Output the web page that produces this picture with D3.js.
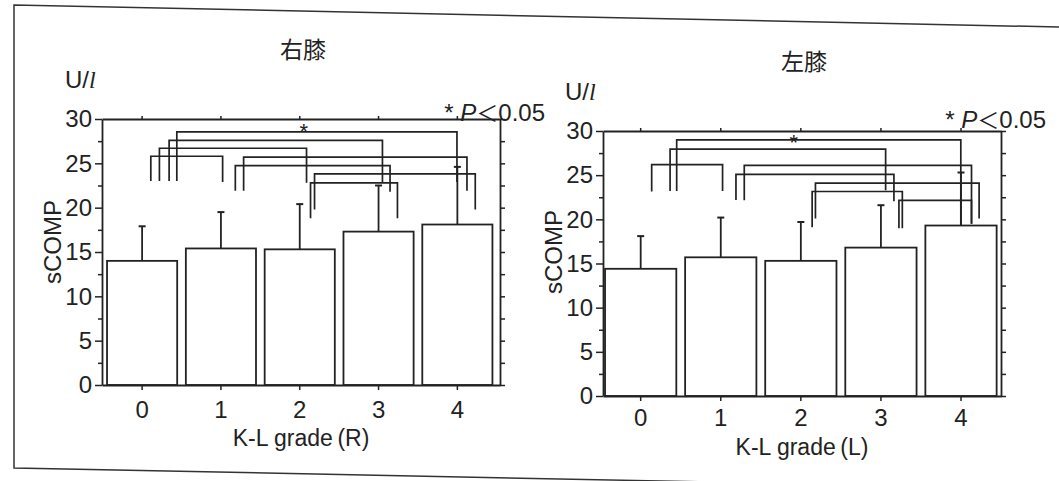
<!DOCTYPE html>
<html><head><meta charset="utf-8">
<script src="https://cdn.jsdelivr.net/npm/d3@7"></script>
<style>
body{margin:0;background:#fff;}
text{font-family:"Liberation Sans",Arial,sans-serif;fill:#222;}
.cjk{font-family:"Noto Sans CJK JP","Noto Sans CJK SC",sans-serif;}
</style></head><body>
<svg id="c" width="1059" height="481"></svg>
<script>
// ---------- data ----------
const categories = ["0", "1", "2", "3", "4"];
const yTickValues = [0, 5, 10, 15, 20, 25, 30];
const yMinorTicks = [2.5, 7.5, 12.5, 17.5, 22.5, 27.5];

// 右膝 (right knee)
const meanRight = [14.0, 15.4, 15.3, 17.3, 18.1];
const sdRight   = [3.9, 4.1, 5.1, 5.2, 6.5];
const pairsRight     = [[0,1],[0,2],[0,3],[0,4],[1,3],[1,4],[2,3],[2,4]];
const bracketTopRight = [25.8, 26.7, 27.6, 28.55, 24.75, 25.7, 22.8, 23.8];
const footFromRight   = [23.0, 23.0, 23.0, 23.0, 21.9, 21.9, 18.8, 19.8];
const footToRight     = [22.9, 22.8, 22.8, 22.9, 21.8, 21.9, 18.8, 19.8];
const starValueRight = 29.2;

// 左膝 (left knee)
const meanLeft = [14.4, 15.7, 15.3, 16.8, 19.3];
const sdLeft   = [3.7, 4.5, 4.4, 4.8, 6.0];
const pairsLeft      = [[0,1],[0,3],[0,4],[1,3],[1,4],[2,3],[2,4],[3,4]];
const bracketTopLeft = [26.2, 27.95, 29.0, 25.1, 26.1, 23.15, 24.1, 22.15];
const footFromLeft   = [23.15, 23.2, 23.2, 22.2, 22.15, 19.1, 20.1, 19.0];
const footToLeft     = [23.2, 23.3, 19.3, 22.05, 19.5, 19.0, 20.1, 19.5];
const starValueLeft = 29.3;

const titleRight = "右膝", titleLeft = "左膝";
const xTitleRight = "K-L grade\u2009(R)", xTitleLeft = "K-L grade\u2009(L)";
const yTitle = "sCOMP";
const sigLabel = "0.05";

// ---------- layout (pixel offsets of bracket legs from band centres) ----------
const legOffsetsRight = [[8.7,1.7],[17.3,6.8],[27,3.9],[34.7,-0.4],[14.4,11.5],[22.7,9.6],[10.8,18.9],[14.8,17.9]];
const legOffsetsLeft  = [[11,1.8],[29.4,4.7],[36,-0.2],[15.2,13],[23.5,10.5],[11.3,21.4],[14.6,18.1],[18,10.5]];

const svg = d3.select("#c");
const ink = "#222";
const FS = 24;

// frame of the scanned figure
svg.append("path")
  .attr("d", "M1059,27 L14,5 L14,468 L1059,489")
  .attr("fill", "none").attr("stroke", "#333").attr("stroke-width", 1.5);

function panel(o) {
  const g = svg.append("g");
  const x = d3.scaleBand().domain(categories).range([o.left, o.right])
    .paddingInner(0.11).paddingOuter(o.po).align(o.align);
  const y = d3.scaleLinear().domain([0, 30]).range([o.bottom, o.top]);
  const cx = i => x(categories[i]) + x.bandwidth() / 2;

  // bars
  g.selectAll("rect.bar").data(o.means).join("rect")
    .attr("x", (d, i) => x(categories[i]))
    .attr("y", d => y(d))
    .attr("width", x.bandwidth())
    .attr("height", d => y(0) - y(d))
    .attr("fill", "#fff").attr("stroke", ink).attr("stroke-width", 1.8);

  // error bars (upper only)
  const eb = g.selectAll("g.eb").data(o.means).join("g");
  eb.append("line")
    .attr("x1", (d, i) => cx(i)).attr("x2", (d, i) => cx(i))
    .attr("y1", d => y(d)).attr("y2", (d, i) => y(d + o.sds[i]))
    .attr("stroke", ink).attr("stroke-width", 1.8);
  eb.append("line")
    .attr("x1", (d, i) => cx(i) - 3.5).attr("x2", (d, i) => cx(i) + 3.5)
    .attr("y1", (d, i) => y(d + o.sds[i])).attr("y2", (d, i) => y(d + o.sds[i]))
    .attr("stroke", ink).attr("stroke-width", 2);

  // significance brackets
  g.selectAll("path.br").data(o.pairs).join("path")
    .attr("fill", "none").attr("stroke", ink).attr("stroke-width", 1.7)
    .attr("d", (p, k) => {
      const xl = cx(p[0]) + o.legs[k][0], xr = cx(p[1]) + o.legs[k][1];
      return `M${xl},${y(o.footFrom[k])}V${y(o.tops[k])}H${xr}V${y(o.footTo[k])}`;
    });
  g.append("text").attr("x", cx(2) + o.starDx).attr("y", y(o.starV))
    .attr("dy", "0.57em").attr("text-anchor", "middle")
    .attr("font-size", 22).text("*");

  const styleAxis = sel => {
    sel.select(".domain").attr("stroke", ink).attr("stroke-width", 1.8);
    sel.selectAll(".tick line").attr("stroke", ink).attr("stroke-width", 1.5);
    sel.selectAll(".tick text").attr("font-size", FS)
      .attr("font-family", "'Liberation Sans',Arial,sans-serif").attr("fill", ink);
  };

  // left axis
  g.append("g").attr("transform", `translate(${o.left},0)`)
    .call(d3.axisLeft(y).tickValues(yTickValues).tickSize(7).tickSizeOuter(0).tickPadding(3))
    .call(styleAxis);
  g.append("g").attr("transform", `translate(${o.left},0)`)
    .call(d3.axisLeft(y).tickValues(yMinorTicks).tickSize(4).tickFormat(""))
    .call(s => s.select(".domain").remove()).call(styleAxis);
  // right axis
  g.append("g").attr("transform", `translate(${o.right},0)`)
    .call(d3.axisRight(y).tickValues(yTickValues.concat(yMinorTicks)).tickSize(5).tickSizeOuter(0).tickFormat(""))
    .call(styleAxis);
  // bottom axis
  g.append("g").attr("transform", `translate(0,${o.bottom})`)
    .call(d3.axisBottom(x).tickSize(5).tickSizeOuter(0).tickPadding(o.xPad))
    .call(styleAxis);
  // top axis
  g.append("g").attr("transform", `translate(0,${o.top})`)
    .call(d3.axisTop(x).tickSize(3).tickSizeOuter(0).tickFormat(""))
    .call(styleAxis);

  // titles
  g.append("text").attr("class", "cjk").attr("x", o.titleX).attr("y", o.titleY)
    .attr("text-anchor", "middle").attr("font-size", 23).text(o.title);
  const u = g.append("text").attr("x", o.unitX).attr("y", o.unitY).attr("font-size", FS);
  u.append("tspan").text("U/");
  u.append("tspan").attr("font-family", "'Liberation Serif',serif").attr("font-style", "italic").text("l");

  const s = g.append("text").attr("x", o.sigX).attr("y", o.sigY)
    .attr("text-anchor", "end").attr("font-size", FS);
  s.append("tspan").text("* ");
  s.append("tspan").attr("font-style", "italic").text("P");
  s.append("tspan").attr("class", "cjk").attr("font-size", 22).text("＜");
  s.append("tspan").text(sigLabel);

  g.append("text")
    .attr("transform", `translate(${o.yTitleX},${o.yTitleY}) rotate(-90)`)
    .attr("text-anchor", "middle").attr("font-size", FS).text(yTitle);
  g.append("text").attr("x", o.xTitleX).attr("y", o.xTitleY)
    .attr("text-anchor", "middle").attr("font-size", o.xTitleFS).text(o.xTitle);
}

panel({
  left: 102, right: 500, top: 119, bottom: 385, po: 0.08, align: 0.4, xPad: 11,
  means: meanRight, sds: sdRight, pairs: pairsRight, tops: bracketTopRight,
  footFrom: footFromRight, footTo: footToRight, legs: legOffsetsRight,
  starV: starValueRight, starDx: 4,
  title: titleRight, titleX: 303, titleY: 58,
  unitX: 65, unitY: 88, sigX: 545, sigY: 121,
  yTitleX: 61, yTitleY: 242, xTitle: xTitleRight, xTitleX: 301, xTitleY: 446, xTitleFS: 23
});
panel({
  left: 603, right: 1001, top: 131, bottom: 396, po: 0.04, align: 0.32, xPad: 8,
  means: meanLeft, sds: sdLeft, pairs: pairsLeft, tops: bracketTopLeft,
  footFrom: footFromLeft, footTo: footToLeft, legs: legOffsetsLeft,
  starV: starValueLeft, starDx: -7,
  title: titleLeft, titleX: 804, titleY: 70,
  unitX: 565, unitY: 100, sigX: 1046, sigY: 128,
  yTitleX: 562, yTitleY: 252, xTitle: xTitleLeft, xTitleX: 802, xTitleY: 455, xTitleFS: 23
});
</script>
</body></html>
